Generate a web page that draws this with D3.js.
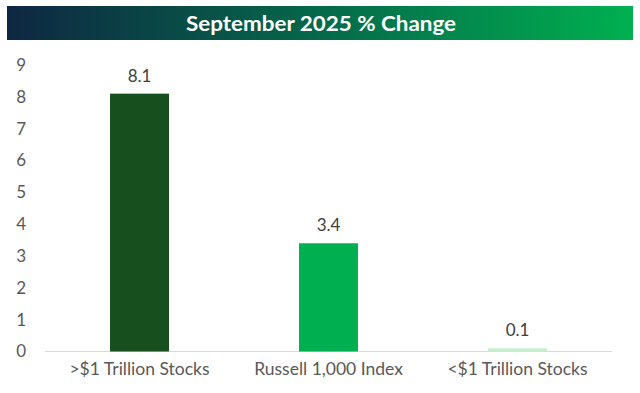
<!DOCTYPE html>
<html><head><meta charset="utf-8">
<script src="https://cdn.jsdelivr.net/npm/d3@7"></script>
<style>body{margin:0;background:#fff;}svg{display:block;font-family:Lato,"Open Sans",sans-serif;}</style>
</head><body>
<svg id="c" width="640" height="393"></svg>
<script>
const categories = [">$1 Trillion Stocks", "Russell 1,000 Index", "<$1 Trillion Stocks"];
const values = [8.1, 3.4, 0.1];
const barColors = ["#174f1f", "#00b050", "#c6efce"];
const yTicks = [0,1,2,3,4,5,6,7,8,9];
const title = "September 2025 % Change";

const svg = d3.select("#c");
const defs = svg.append("defs");
const g = defs.append("linearGradient").attr("id","tg").attr("x1","0").attr("x2","1");
g.append("stop").attr("offset","0").attr("stop-color","#0e2742");
g.append("stop").attr("offset","0.5").attr("stop-color","#05694a");
g.append("stop").attr("offset","1").attr("stop-color","#00b050");
svg.append("rect").attr("x",7).attr("y",6).attr("width",626).attr("height",34).attr("fill","url(#tg)");
svg.append("text").attr("x",321).attr("y",31).attr("text-anchor","middle").attr("fill","#fff")
  .attr("font-size",21).attr("font-weight","bold").attr("textLength",270).attr("lengthAdjust","spacingAndGlyphs").text(title);

const x = d3.scaleBand().domain(categories).range([45,612]).paddingInner(0.688).paddingOuter(0.344);
const y = d3.scaleLinear().domain([0,9]).range([351.5,65]);

svg.append("line").attr("x1",45).attr("x2",612).attr("y1",y(0)).attr("y2",y(0)).attr("stroke","#d9d9d9").attr("stroke-width",1);

const yAxis = d3.axisLeft(y).tickValues(yTicks).tickSize(0).tickPadding(0);
const ya = svg.append("g").attr("transform","translate(26,0)").call(yAxis);
ya.select(".domain").remove();
ya.selectAll("text").attr("fill","#595959").attr("font-size",17).attr("font-family","Lato,sans-serif").attr("text-anchor","end");

svg.selectAll("rect.bar").data(values).enter().append("rect").attr("class","bar")
  .attr("x",(d,i)=>x(categories[i])).attr("width",x.bandwidth())
  .attr("y",d=>y(d)).attr("height",d=>y(0)-y(d)).attr("fill",(d,i)=>barColors[i]);

svg.selectAll("text.lbl").data(values).enter().append("text").attr("class","lbl")
  .attr("x",(d,i)=>x(categories[i])+x.bandwidth()/2).attr("y",d=>y(d)-12)
  .attr("text-anchor","middle").attr("fill","#404040").attr("font-size",17).text(d=>d.toFixed(1));

const xAxis = d3.axisBottom(x).tickSize(0).tickPadding(0);
const xa = svg.append("g").attr("transform",`translate(0,${y(0)+11})`).call(xAxis);
xa.select(".domain").remove();
xa.selectAll("text").attr("fill","#595959").attr("font-size",17.5).attr("font-family","Lato,sans-serif").attr("dy","0.71em");
</script>
</body></html>
